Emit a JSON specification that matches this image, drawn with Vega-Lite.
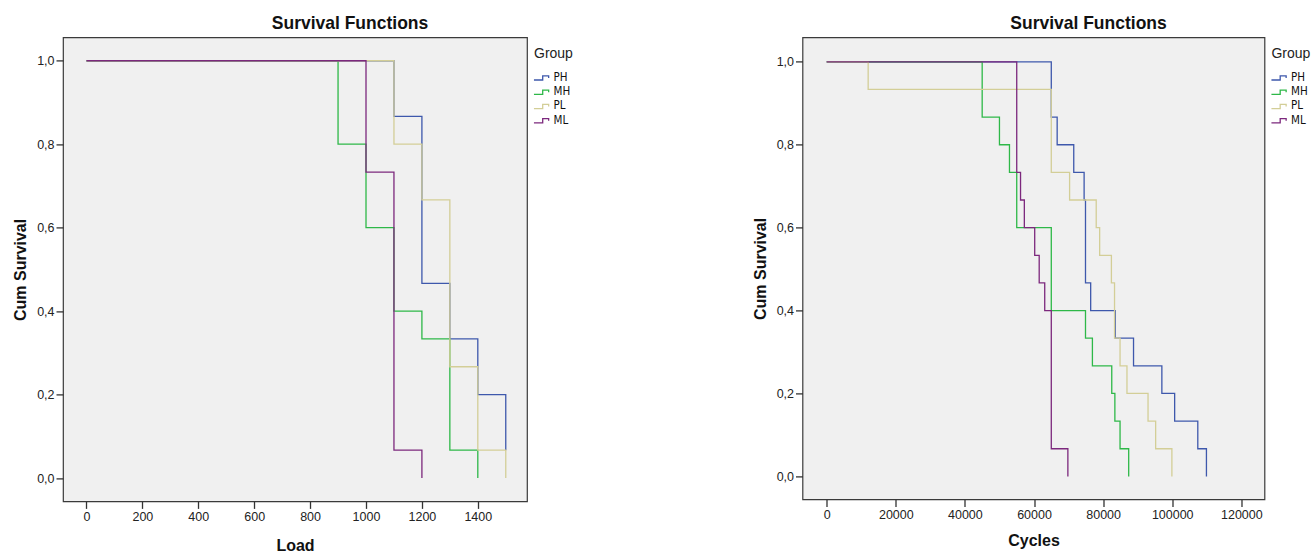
{
  "$schema": "https://vega.github.io/schema/vega-lite/v6.json",
  "padding": {"left": 12, "top": 14.4, "right": 0, "bottom": 0},
  "background": "white",
  "spacing": 177.5,
  "datasets": {
    "load": [
      {"g": "PH", "x": 0, "s": 1}, {"g": "PH", "x": 1100, "s": 0.8667}, {"g": "PH", "x": 1200, "s": 0.4667}, {"g": "PH", "x": 1300, "s": 0.3333}, {"g": "PH", "x": 1400, "s": 0.2}, {"g": "PH", "x": 1500, "s": 0.0667},
      {"g": "MH", "x": 0, "s": 1}, {"g": "MH", "x": 900, "s": 0.8}, {"g": "MH", "x": 1000, "s": 0.6}, {"g": "MH", "x": 1100, "s": 0.4}, {"g": "MH", "x": 1200, "s": 0.3333}, {"g": "MH", "x": 1300, "s": 0.0667}, {"g": "MH", "x": 1400, "s": 0},
      {"g": "PL", "x": 0, "s": 1}, {"g": "PL", "x": 1100, "s": 0.8}, {"g": "PL", "x": 1200, "s": 0.6667}, {"g": "PL", "x": 1300, "s": 0.2667}, {"g": "PL", "x": 1400, "s": 0.0667}, {"g": "PL", "x": 1500, "s": 0},
      {"g": "ML", "x": 0, "s": 1}, {"g": "ML", "x": 1000, "s": 0.7333}, {"g": "ML", "x": 1100, "s": 0.0667}, {"g": "ML", "x": 1200, "s": 0}
    ],
    "cycles": [
      {"g": "PH", "x": 0, "s": 1}, {"g": "PH", "x": 65000, "s": 0.8667}, {"g": "PH", "x": 66700, "s": 0.8}, {"g": "PH", "x": 71500, "s": 0.7333}, {"g": "PH", "x": 74500, "s": 0.6667}, {"g": "PH", "x": 74900, "s": 0.4667}, {"g": "PH", "x": 76400, "s": 0.4}, {"g": "PH", "x": 83500, "s": 0.3333}, {"g": "PH", "x": 88800, "s": 0.2667}, {"g": "PH", "x": 97000, "s": 0.2}, {"g": "PH", "x": 100700, "s": 0.1333}, {"g": "PH", "x": 107400, "s": 0.0667}, {"g": "PH", "x": 109900, "s": 0},
      {"g": "MH", "x": 0, "s": 1}, {"g": "MH", "x": 45000, "s": 0.8667}, {"g": "MH", "x": 50000, "s": 0.8}, {"g": "MH", "x": 52900, "s": 0.7333}, {"g": "MH", "x": 55000, "s": 0.6}, {"g": "MH", "x": 65000, "s": 0.4}, {"g": "MH", "x": 74900, "s": 0.3333}, {"g": "MH", "x": 76900, "s": 0.2667}, {"g": "MH", "x": 82500, "s": 0.2}, {"g": "MH", "x": 83400, "s": 0.1333}, {"g": "MH", "x": 84900, "s": 0.0667}, {"g": "MH", "x": 87400, "s": 0},
      {"g": "PL", "x": 0, "s": 1}, {"g": "PL", "x": 12000, "s": 0.9333}, {"g": "PL", "x": 65000, "s": 0.7333}, {"g": "PL", "x": 70300, "s": 0.6667}, {"g": "PL", "x": 78000, "s": 0.6}, {"g": "PL", "x": 79000, "s": 0.5333}, {"g": "PL", "x": 82400, "s": 0.4667}, {"g": "PL", "x": 83300, "s": 0.3333}, {"g": "PL", "x": 84900, "s": 0.2667}, {"g": "PL", "x": 86900, "s": 0.2}, {"g": "PL", "x": 93000, "s": 0.1333}, {"g": "PL", "x": 95200, "s": 0.0667}, {"g": "PL", "x": 99900, "s": 0},
      {"g": "ML", "x": 0, "s": 1}, {"g": "ML", "x": 55000, "s": 0.7333}, {"g": "ML", "x": 56100, "s": 0.6667}, {"g": "ML", "x": 57200, "s": 0.6}, {"g": "ML", "x": 60200, "s": 0.5333}, {"g": "ML", "x": 61500, "s": 0.4667}, {"g": "ML", "x": 63100, "s": 0.4}, {"g": "ML", "x": 65000, "s": 0.0667}, {"g": "ML", "x": 69800, "s": 0}
    ]
  },
  "config": {
    "font": "Liberation Sans",
    "view": {"fill": "#F0F0F0", "stroke": "#3a3a3a", "strokeWidth": 1.2},
    "axis": {"grid": false, "domain": false, "tickSize": 7, "tickColor": "#333333", "tickWidth": 1.3, "labelFontSize": 12.5, "labelColor": "#222222", "labelPadding": 2, "titleFontSize": 16, "titleFontWeight": "bold", "titleColor": "#111111"},
    "title": {"fontSize": 17.5, "fontWeight": "bold", "color": "#111111", "frame": "group", "anchor": "middle", "dx": 55, "offset": 4.5},
    "legend": {"padding": 0, "titleFontSize": 14, "titleFontWeight": "normal", "titleColor": "#222222", "titlePadding": 9, "labelFont": "Liberation Sans Narrow, DejaVu Sans Condensed, Liberation Sans", "labelFontSize": 11.5, "labelColor": "#111111", "labelOffset": 3.5, "rowPadding": 0.3, "symbolType": "M-1.15,0.3H0.1V-0.3H0.95V0", "symbolSize": 196, "symbolStrokeWidth": 1.2},
    "line": {"interpolate": "step-after", "strokeWidth": 1.3}
  },
  "resolve": {"scale": {"x": "independent", "y": "independent"}, "legend": {"color": "independent"}},
  "hconcat": [
    {
      "width": 464,
      "height": 464,
      "title": {"text": "Survival Functions"},
      "data": {"name": "load"},
      "encoding": {
        "x": {"field": "x", "type": "quantitative", "scale": {"domain": [-84, 1576], "nice": false, "zero": false}, "axis": {"values": [0, 200, 400, 600, 800, 1000, 1200, 1400], "format": "d", "title": "Load", "titlePadding": 14.5, "labelPadding": 2}},
        "y": {"field": "s", "type": "quantitative", "scale": {"domain": [-0.056, 1.056], "nice": false, "zero": false}, "axis": {"values": [0, 0.2, 0.4, 0.6, 0.8, 1], "labelExpr": "replace(format(datum.value, '.1f'), '.', ',')", "title": "Cum Survival", "titlePadding": 8}},
        "color": {"field": "g", "type": "nominal", "scale": {"domain": ["PH", "MH", "PL", "ML"], "range": ["#3E58AC", "#2EB848", "#D3CE97", "#7C287D"]}, "legend": {"orient": "none", "legendX": 471, "legendY": 9.5, "title": "Group"}}
      },
      "layer": [
        {"transform": [{"filter": {"field": "g", "equal": "PH"}}], "mark": {"type": "line", "interpolate": "step-after"}},
        {"transform": [{"filter": {"field": "g", "equal": "MH"}}], "mark": {"type": "line", "interpolate": "step-after"}},
        {"transform": [{"filter": {"field": "g", "equal": "PL"}}], "mark": {"type": "line", "interpolate": "step-after"}},
        {"transform": [{"filter": {"field": "g", "equal": "ML"}}], "mark": {"type": "line", "interpolate": "step-after"}}
      ]
    },
    {
      "width": 462,
      "height": 462,
      "title": {"text": "Survival Functions"},
      "data": {"name": "cycles"},
      "encoding": {
        "x": {"field": "x", "type": "quantitative", "scale": {"domain": [-7000, 126700], "nice": false, "zero": false}, "axis": {"values": [0, 20000, 40000, 60000, 80000, 100000, 120000], "format": "d", "title": "Cycles", "titlePadding": 12, "labelPadding": 2}},
        "y": {"field": "s", "type": "quantitative", "scale": {"domain": [-0.0555, 1.0589], "nice": false, "zero": false}, "axis": {"values": [0, 0.2, 0.4, 0.6, 0.8, 1], "labelExpr": "replace(format(datum.value, '.1f'), '.', ',')", "title": "Cum Survival", "titlePadding": 8}},
        "color": {"field": "g", "type": "nominal", "scale": {"domain": ["PH", "MH", "PL", "ML"], "range": ["#3E58AC", "#2EB848", "#D3CE97", "#7C287D"]}, "legend": {"orient": "none", "legendX": 469, "legendY": 9.5, "title": "Group"}}
      },
      "layer": [
        {"transform": [{"filter": {"field": "g", "equal": "PH"}}], "mark": {"type": "line", "interpolate": "step-after"}},
        {"transform": [{"filter": {"field": "g", "equal": "MH"}}], "mark": {"type": "line", "interpolate": "step-after"}},
        {"transform": [{"filter": {"field": "g", "equal": "PL"}}], "mark": {"type": "line", "interpolate": "step-after"}},
        {"transform": [{"filter": {"field": "g", "equal": "ML"}}], "mark": {"type": "line", "interpolate": "step-after"}}
      ]
    }
  ]
}
